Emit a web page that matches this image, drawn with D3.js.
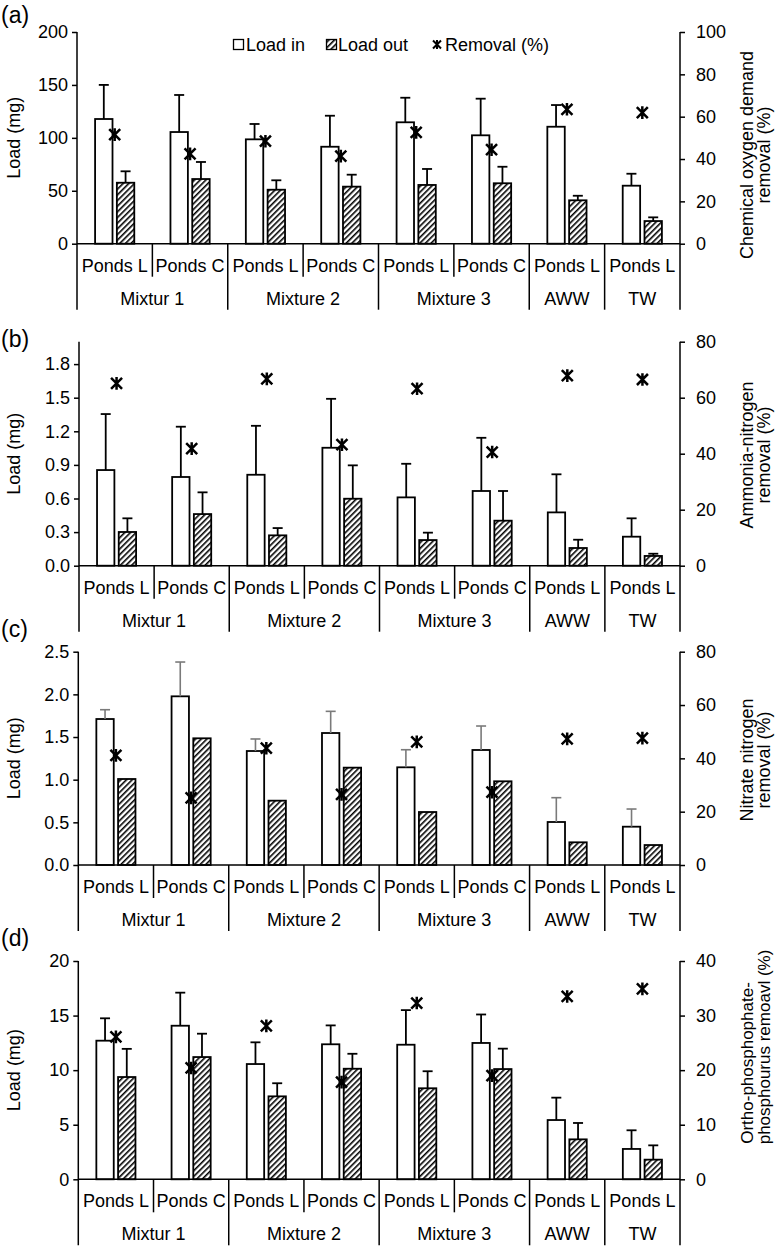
<!DOCTYPE html>
<html><head><meta charset="utf-8">
<script src="https://cdn.jsdelivr.net/npm/d3@7"></script>
<style>body{margin:0;background:#fff}svg{display:block}text{font-family:"Liberation Sans",Arial,sans-serif;fill:#000}</style>
</head><body>
<script>
// ---------- data ----------
const categories = ["Ponds L","Ponds C","Ponds L","Ponds C","Ponds L","Ponds C","Ponds L","Ponds L"];
const groups = ["Mixtur 1","Mixture 2","Mixture 3","AWW","TW"];
const groupSizes = [2,2,2,1,1];
const seriesNames = ["Load in","Load out","Removal (%)"];

// (a) Chemical oxygen demand
const codIn      = [117.8,105.5,98.6,91.6,114.7,102.4,110.5,54.8];
const codInSd    = [32.2,35.0,14.5,29.3,23.2,34.6,20.5,11.3];
const codOut     = [57.6,61.1,51.0,53.9,55.5,57.1,41.0,21.4];
const codOutSd   = [10.8,16.1,8.9,11.3,15.1,15.6,4.3,3.5];
const codRemoval = [51.5,42.4,48.4,41.4,52.6,44.4,63.5,61.9];

// (b) Ammonia-nitrogen
const nh4In      = [0.854,0.792,0.812,1.053,0.610,0.667,0.476,0.259];
const nh4InSd    = [0.500,0.449,0.437,0.437,0.300,0.475,0.340,0.164];
const nh4Out     = [0.301,0.461,0.271,0.598,0.229,0.402,0.158,0.087];
const nh4OutSd   = [0.122,0.194,0.065,0.298,0.066,0.265,0.074,0.020];
const nh4Removal = [65.1,41.8,66.7,43.2,63.2,40.6,67.9,66.5];

// (c) Nitrate nitrogen
const no3In      = [1.711,1.977,1.336,1.547,1.145,1.348,0.504,0.449];
const no3InSd    = [0.109,0.402,0.141,0.254,0.206,0.281,0.285,0.207];
const no3Out     = [1.008,1.485,0.754,1.141,0.621,0.981,0.266,0.234];
const no3OutSd   = [null,null,null,null,null,null,null,null];
const no3Removal = [41.1,25.2,43.8,26.5,46.2,27.3,47.3,47.6];

// (d) Ortho-phosphate phosphorus
const po4In      = [12.70,14.07,10.56,12.37,12.33,12.49,5.43,2.78];
const po4InSd    = [2.05,3.03,1.99,1.73,3.17,2.61,2.05,1.71];
const po4Out     = [9.37,11.20,7.60,10.13,8.34,10.10,3.66,1.80];
const po4OutSd   = [2.58,2.14,1.20,1.37,1.56,1.87,1.50,1.31];
const po4Removal = [26.1,20.4,28.1,17.8,32.3,19.0,33.5,34.9];

// tick labels
const codLeftTicks = [0,50,100,150,200],  codRightTicks = [0,20,40,60,80,100];
const nh4LeftTicks = [0,0.3,0.6,0.9,1.2,1.5,1.8], nh4RightTicks = [0,20,40,60,80];
const no3LeftTicks = [0,0.5,1.0,1.5,2.0,2.5], no3RightTicks = [0,20,40,60,80];
const po4LeftTicks = [0,5,10,15,20], po4RightTicks = [0,10,20,30,40];

// ---------- layout ----------
const panels = [
  {label:"(a)", labelY:23, left:77, y0:243.7, top:32, lmax:200, rmax:100, lt:codLeftTicks, rt:codRightTicks, lf:d3.format("d"),
   inV:codIn, inSd:codInSd, outV:codOut, outSd:codOutSd, rem:codRemoval, errColor:"#000",
   rtitle:["Chemical oxygen demand","removal (%)"], rcy:[155,155], rfs:18, legend:true},
  {label:"(b)", labelY:347, left:79, y0:565.7, top:341.7, lmax:2.0, rmax:80, lt:nh4LeftTicks, rt:nh4RightTicks, lf:d3.format(".1f"),
   inV:nh4In, inSd:nh4InSd, outV:nh4Out, outSd:nh4OutSd, rem:nh4Removal, errColor:"#000",
   rtitle:["Ammonia-nitrogen","removal (%)"], rcy:[455,455], rfs:18},
  {label:"(c)", labelY:637, left:78.3, y0:865, top:651.7, lmax:2.5, rmax:80, lt:no3LeftTicks, rt:no3RightTicks, lf:d3.format(".1f"),
   inV:no3In, inSd:no3InSd, outV:no3Out, outSd:no3OutSd, rem:no3Removal, errColor:"#7a7a7a",
   rtitle:["Nitrate nitrogen","removal (%)"], rcy:[760,760], rfs:18},
  {label:"(d)", labelY:946, left:78.3, y0:1179.3, top:961, lmax:20, rmax:40, lt:po4LeftTicks, rt:po4RightTicks, lf:d3.format("d"),
   inV:po4In, inSd:po4InSd, outV:po4Out, outSd:po4OutSd, rem:po4Removal, errColor:"#000",
   rtitle:["Ortho-phosphophate-","phosphourus remoavl (%)"], rcy:[1063,1047], rfs:17}
];
const RIGHT = 680, FS = 18;

const svg = d3.select("body").append("svg").attr("width",780).attr("height",1247);
const defs = svg.append("defs");
const pat = defs.append("pattern").attr("id","hatch").attr("patternUnits","userSpaceOnUse")
  .attr("width",4).attr("height",4).attr("patternTransform","rotate(45)");
pat.append("rect").attr("width",4).attr("height",4).attr("fill","#fff");
pat.append("line").attr("x1",0.8).attr("y1",0).attr("x2",0.8).attr("y2",4).attr("stroke","#000").attr("stroke-width",1.6);

function starPath(r){
  return `M${-r},${-r}L${r},${r}M${-r},${r}L${r},${-r}M0,${-r*1.15}L0,${r*1.15}`;
}

panels.forEach(p => {
  const g = svg.append("g");
  const x = d3.scaleBand().domain(d3.range(categories.length)).range([p.left, RIGHT]).padding(0);
  const bw = x.bandwidth();
  const x1 = d3.scaleBand().domain(["in","out"]).range([bw*0.24, bw*0.76]).paddingInner(0.2);
  const yL = d3.scaleLinear().domain([0,p.lmax]).range([p.y0,p.top]);
  const yR = d3.scaleLinear().domain([0,p.rmax]).range([p.y0,p.top]);
  const innerB = p.y0 + 33, outerB = p.y0 + 66;

  // bars
  const data = categories.map((c,i)=>({i, inV:p.inV[i], inSd:p.inSd[i], outV:p.outV[i], outSd:p.outSd[i], rem:p.rem[i]}));
  const barStroke = 1.8;
  g.selectAll(".bin").data(data).join("rect")
    .attr("x", d=>x(d.i)+x1("in")).attr("width", x1.bandwidth())
    .attr("y", d=>yL(d.inV)).attr("height", d=>p.y0-yL(d.inV))
    .attr("fill","#fff").attr("stroke","#000").attr("stroke-width",barStroke);
  g.selectAll(".bout").data(data).join("rect")
    .attr("x", d=>x(d.i)+x1("out")).attr("width", x1.bandwidth())
    .attr("y", d=>yL(d.outV)).attr("height", d=>p.y0-yL(d.outV))
    .attr("fill","url(#hatch)").attr("stroke","#000").attr("stroke-width",barStroke);

  // error bars
  const errs = [];
  data.forEach(d=>{
    if(d.inSd!=null) errs.push({cx:x(d.i)+x1("in")+x1.bandwidth()/2, v:d.inV, sd:d.inSd});
    if(d.outSd!=null) errs.push({cx:x(d.i)+x1("out")+x1.bandwidth()/2, v:d.outV, sd:d.outSd});
  });
  const ew = p.errColor === "#000" ? 1.8 : 1.6;
  g.selectAll(".ev").data(errs).join("line")
    .attr("x1",d=>d.cx).attr("x2",d=>d.cx).attr("y1",d=>yL(d.v)).attr("y2",d=>yL(d.v+d.sd))
    .attr("stroke",p.errColor).attr("stroke-width",ew);
  g.selectAll(".ec").data(errs).join("line")
    .attr("x1",d=>d.cx-5).attr("x2",d=>d.cx+5).attr("y1",d=>yL(d.v+d.sd)).attr("y2",d=>yL(d.v+d.sd))
    .attr("stroke",p.errColor).attr("stroke-width",ew);

  // removal markers
  g.selectAll(".rm").data(data).join("path")
    .attr("transform", d=>`translate(${x(d.i)+bw/2},${yR(d.rem)})`)
    .attr("d", starPath(5.5)).attr("fill","none").attr("stroke","#000").attr("stroke-width",2.5);

  // left axis
  const la = g.append("g").attr("transform",`translate(${p.left},0)`)
    .call(d3.axisLeft(yL).tickValues(p.lt).tickFormat(p.lf).tickSize(5).tickPadding(4).tickSizeOuter(0));
  la.select(".domain").remove();
  la.selectAll("line").attr("stroke","#000").attr("stroke-width",1.5);
  la.selectAll("text").style("font-size",FS+"px").style("font-family","'Liberation Sans',Arial,sans-serif");
  // right axis
  const ra = g.append("g").attr("transform",`translate(${RIGHT},0)`)
    .call(d3.axisRight(yR).tickValues(p.rt).tickFormat(d3.format("d")).tickSize(5).tickPadding(11).tickSizeOuter(0));
  ra.select(".domain").remove();
  ra.selectAll("line").attr("stroke","#000").attr("stroke-width",1.5);
  ra.selectAll("text").style("font-size",FS+"px").style("font-family","'Liberation Sans',Arial,sans-serif");

  // axis lines
  g.append("line").attr("x1",p.left).attr("x2",p.left).attr("y1",p.top).attr("y2",outerB).attr("stroke","#000").attr("stroke-width",1.5);
  g.append("line").attr("x1",RIGHT).attr("x2",RIGHT).attr("y1",yR(p.rmax)).attr("y2",outerB).attr("stroke","#000").attr("stroke-width",1.5);
  g.append("line").attr("x1",p.left).attr("x2",RIGHT).attr("y1",p.y0).attr("y2",p.y0).attr("stroke","#000").attr("stroke-width",1.5);

  // category separators
  let bounds = [], acc = 0;
  groupSizes.forEach(s=>{ acc += s; bounds.push(acc); });
  for(let k=1;k<categories.length;k++){
    const isGroup = bounds.includes(k);
    const xx = x(k);
    g.append("line").attr("x1",xx).attr("x2",xx).attr("y1",p.y0).attr("y2",isGroup?outerB:innerB)
      .attr("stroke","#000").attr("stroke-width",1.5);
  }
  // category labels
  g.selectAll(".cl").data(categories).join("text")
    .attr("x",(d,i)=>x(i)+bw/2).attr("y",p.y0+28).attr("text-anchor","middle")
    .style("font-size",FS+"px").text(d=>d);
  // group labels
  let start = 0;
  groups.forEach((gname,gi)=>{
    const s = groupSizes[gi];
    const cx = (x(start) + x(start+s-1) + bw)/2;
    g.append("text").attr("x",cx).attr("y",p.y0+61).attr("text-anchor","middle").style("font-size",FS+"px").text(gname);
    start += s;
  });

  // titles
  g.append("text").attr("transform",`translate(20,${(p.y0+p.top)/2}) rotate(-90)`)
    .attr("text-anchor","middle").style("font-size",FS+"px").text("Load (mg)");
  p.rtitle.forEach((t,li)=>{
    g.append("text").attr("transform",`translate(753,${p.rcy[li]}) rotate(-90)`).attr("dy", li*17)
      .attr("text-anchor","middle").style("font-size",p.rfs+"px").text(t);
  });
  g.append("text").attr("x",1).attr("y",p.labelY).style("font-size","23px").text(p.label);

  // legend
  if(p.legend){
    const lg = g.append("g");
    lg.append("rect").attr("x",233.5).attr("y",39.5).attr("width",10).attr("height",10).attr("fill","#fff").attr("stroke","#000").attr("stroke-width",1.3);
    lg.append("text").attr("x",246).attr("y",50.5).style("font-size",FS+"px").text(seriesNames[0]);
    lg.append("rect").attr("x",326.5).attr("y",39.5).attr("width",10).attr("height",10).attr("fill","url(#hatch)").attr("stroke","#000").attr("stroke-width",1.3);
    lg.append("text").attr("x",338).attr("y",50.5).style("font-size",FS+"px").text(seriesNames[1]);
    lg.append("path").attr("transform","translate(437,44.5)").attr("d",starPath(4)).attr("fill","none").attr("stroke","#000").attr("stroke-width",2);
    lg.append("text").attr("x",445).attr("y",50.5).style("font-size",FS+"px").text(seriesNames[2]);
  }
});
</script>
</body></html>
